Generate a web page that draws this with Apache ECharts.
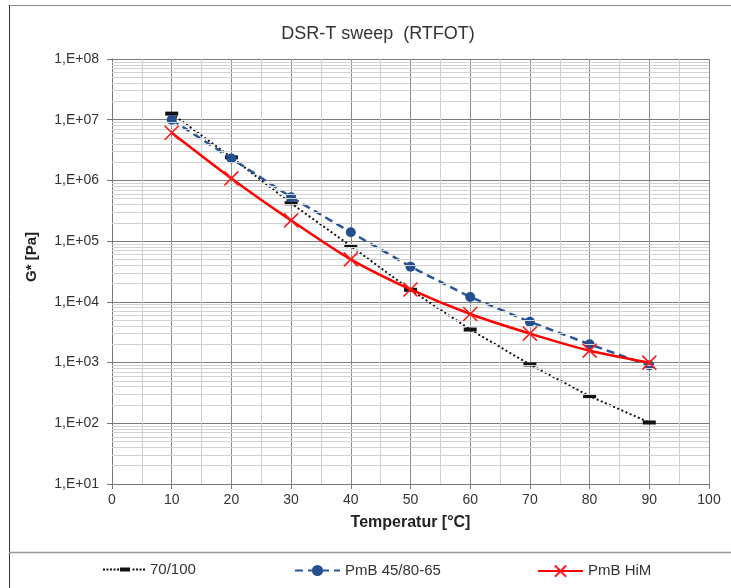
<!DOCTYPE html>
<html>
<head>
<meta charset="utf-8">
<script src="https://cdn.jsdelivr.net/npm/echarts@6/dist/echarts.min.js"></script>
<style>
  html, body { margin: 0; padding: 0; background: #fff; }
  #chart { width: 731px; height: 588px; }
</style>
</head>
<body>
<div id="chart"></div>
<script>
// Temperature steps of the DSR sweep (°C)
const temperatures = [10, 20, 30, 40, 50, 60, 70, 80, 90];

// Complex shear modulus G* [Pa] per binder
const g_70_100   = [1.26e7, 2.4e6, 4.2e5, 8.3e4, 1.58e4, 3.5e3, 930, 280, 103];
const g_pmb4580  = [1.0e7, 2.3e6, 5.3e5, 1.4e5, 3.8e4, 1.2e4, 4.7e3, 2.0e3, 900];
const g_pmbHiM   = [6.1e6, 1.08e6, 2.2e5, 5.0e4, 1.6e4, 6.3e3, 3.0e3, 1.57e3, 1.0e3];

const seriesNames = ['70/100', 'PmB 45/80-65', 'PmB HiM'];

// Decade labels of the logarithmic G* axis
const yTickLabels = ['1,E+01', '1,E+02', '1,E+03', '1,E+04', '1,E+05', '1,E+06', '1,E+07', '1,E+08'];

// Minor gridlines at 2..9 × 10^n inside each decade
const minorLevels = [];
for (let e = 1; e < 8; e++) {
  for (let m = 2; m <= 9; m++) minorLevels.push(m * Math.pow(10, e));
}

const pairs = arr => temperatures.map((t, i) => [t, arr[i]]);
const FONT = 'Liberation Sans, Arial, sans-serif';

// Legend sample for the dotted series: small dots with a bar in the middle
function dottedDashIcon() {
  const sq = x => `M${x},1L${x + 2},1L${x + 2},3L${x},3Z`;
  const dots = [0, 3.5, 7, 10.5, 14, 29.5, 33, 36.5, 40].map(sq).join(' ');
  return 'path://' + dots + ' M17,0L27,0L27,4L17,4Z';
}

const chart = echarts.init(document.getElementById('chart'), null, { renderer: 'canvas' });

const legendText = { fontFamily: FONT, fontSize: 15, color: '#333' };

chart.setOption({
  backgroundColor: '#fff',
  animation: false,
  title: {
    text: 'DSR-T sweep  (RTFOT)',
    left: 373,
    top: 20,
    textAlign: 'center',
    textStyle: { fontFamily: FONT, fontSize: 18, fontWeight: 'normal', color: '#333' }
  },
  grid: { left: 112, top: 59, right: 22, bottom: 104, containLabel: false },
  xAxis: {
    type: 'value',
    min: 0,
    max: 100,
    interval: 10,
    name: 'Temperatur [°C]',
    nameLocation: 'middle',
    nameGap: 31,
    nameTextStyle: { fontFamily: FONT, fontSize: 16, fontWeight: 'bold', color: '#222' },
    axisLine: { show: true, lineStyle: { color: '#777', width: 1 } },
    axisTick: { show: true, length: 5, lineStyle: { color: '#777' } },
    axisLabel: { fontFamily: FONT, fontSize: 14, color: '#333', margin: 9 },
    splitLine: { show: true, lineStyle: { color: '#8a8a8a', width: 1 } },
    minorTick: { show: false, splitNumber: 2 },
    minorSplitLine: { show: true, lineStyle: { color: '#d0d0d0', width: 1 } }
  },
  yAxis: {
    type: 'log',
    logBase: 10,
    min: 10,
    max: 1e8,
    axisLine: { show: true, lineStyle: { color: '#777', width: 1 } },
    axisTick: { show: true, length: 5, lineStyle: { color: '#777' } },
    axisLabel: {
      fontFamily: FONT, fontSize: 14, color: '#333', margin: 13,
      formatter: v => yTickLabels[Math.round(Math.log10(v)) - 1]
    },
    splitLine: { show: true, lineStyle: { color: '#7a7a7a', width: 1 } }
  },
  legend: [
    {
      left: 103, top: 562, padding: 0, itemWidth: 42, itemHeight: 4,
      textStyle: legendText,
      data: [{ name: seriesNames[0], icon: dottedDashIcon() }]
    },
    {
      left: 294, top: 563, padding: 0, itemWidth: 45, itemHeight: 14,
      textStyle: legendText,
      data: [seriesNames[1]]
    },
    {
      left: 537, top: 563, padding: 0, itemWidth: 45, itemHeight: 14,
      textStyle: legendText,
      data: [seriesNames[2]]
    }
  ],
  graphic: [
    { type: 'line', shape: { x1: 9, y1: 5.5, x2: 731, y2: 5.5 }, style: { stroke: '#8c8c8c', lineWidth: 1 } },
    { type: 'line', shape: { x1: 9.5, y1: 5, x2: 9.5, y2: 588 }, style: { stroke: '#333', lineWidth: 1 } },
    { type: 'line', shape: { x1: 9, y1: 552.5, x2: 731, y2: 552.5 }, style: { stroke: '#999', lineWidth: 1.5 } },
    {
      type: 'text', left: 24, top: 232, rotation: Math.PI / 2,
      style: { text: 'G* [Pa]', font: 'bold 15px ' + FONT, fill: '#222' }
    }
  ],
  series: [
    {
      name: '__minorGrid',
      type: 'line',
      data: [],
      z: 1,
      silent: true,
      markLine: {
        silent: true,
        symbol: 'none',
        label: { show: false },
        lineStyle: { color: '#d2d2d2', width: 1, type: 'solid' },
        emphasis: { disabled: true },
        data: minorLevels.map(v => ({ yAxis: v }))
      }
    },
    {
      name: seriesNames[0],
      type: 'line',
      z: 3,
      data: pairs(g_70_100),
      symbol: 'rect',
      symbolSize: [13, 4],
      itemStyle: { color: '#111' },
      lineStyle: { color: '#111', width: 2, type: [2, 2.5] }
    },
    {
      name: seriesNames[1],
      type: 'line',
      z: 4,
      data: pairs(g_pmb4580),
      symbol: 'circle',
      symbolSize: 10,
      itemStyle: { color: '#24508f' },
      lineStyle: { color: '#2a5597', width: 2.5, type: [8, 5] }
    },
    {
      name: seriesNames[2],
      type: 'line',
      z: 5,
      smooth: 0.25,
      data: pairs(g_pmbHiM),
      symbol: 'path://M0,0L10,10M10,0L0,10',
      symbolSize: 14,
      itemStyle: { color: 'none', borderColor: '#ff1a1a', borderWidth: 1.6 },
      lineStyle: { color: '#ff0000', width: 2.5 }
    }
  ]
});
</script>
</body>
</html>
